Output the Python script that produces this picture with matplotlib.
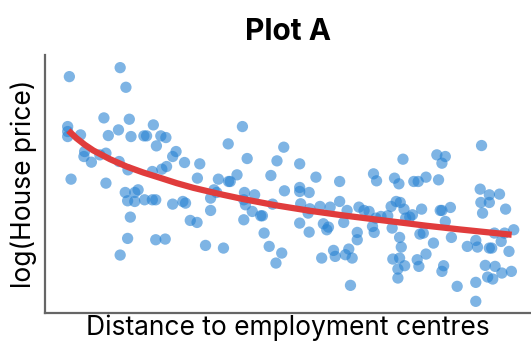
import numpy as np
import matplotlib.pyplot as plt

plt.rcParams['font.family'] = ['Inter', 'DejaVu Sans']

# scatter values (arbitrary units, no ticks shown)
distance = [2.05, 2.00, 2.00, 2.00, 2.10, 2.38, 2.50, 2.48, 2.70, 2.95,
            3.07, 3.13, 3.13, 3.20, 3.50, 3.55, 3.72, 3.82, 3.87, 3.52,
            3.78, 3.55, 3.77, 3.85, 3.70, 3.77, 3.98, 3.98, 4.08, 4.25,
            4.33, 4.27, 4.50, 4.60, 4.53, 4.62, 4.75, 4.90, 4.50, 4.78,
            4.92, 5.10, 5.20, 5.45, 5.10, 5.40, 5.48, 4.60, 4.88, 5.62,
            5.82, 5.83, 5.90, 6.07, 6.22, 6.22, 6.32, 6.45, 6.40, 6.60,
            6.74, 6.75, 6.80, 7.00, 7.16, 7.20, 7.30, 7.22, 7.20, 7.25,
            7.52, 7.45, 7.70, 7.75, 7.80, 7.95, 8.00, 8.05, 8.18, 8.15,
            8.32, 8.38, 8.40, 8.85, 8.85, 8.85, 8.88, 8.85, 9.13, 9.13,
            9.10, 9.15, 9.33, 9.45, 9.50, 9.55, 9.65, 9.70, 9.75, 9.85,
            9.90, 10.03, 10.03, 10.15, 10.20, 10.25, 10.30, 10.35, 10.40, 10.55,
            10.55, 10.60, 10.75, 10.90, 11.00, 11.05, 11.03, 11.12, 11.10, 11.25,
            11.45, 11.55, 11.58, 11.60, 11.65, 11.70, 11.78, 11.82, 11.80, 11.75,
            11.80, 11.75, 11.85, 11.90, 11.95, 11.93, 11.98, 12.10, 12.18, 12.22,
            12.35, 12.32, 12.37, 12.40, 12.45, 12.50, 12.58, 12.58, 12.80, 12.90,
            12.95, 13.00, 13.05, 13.05, 13.15, 13.15, 13.05, 13.10, 13.30, 13.33,
            13.50, 13.80, 14.05, 14.05, 14.05, 14.10, 14.18, 14.22, 14.20, 14.25,
            14.33, 14.40, 14.45, 14.45, 14.45, 14.52, 14.55, 14.60, 14.62, 14.75,
            14.80, 14.82, 14.90, 14.93, 15.03, 15.10, 15.17]
log_price = [7.10, 5.60, 5.45, 5.30, 4.02, 5.35, 4.85, 4.70, 4.53, 4.75,
             5.86, 4.80, 3.90, 5.33, 5.50, 7.37, 6.78, 5.82, 5.30, 4.55,
             4.30, 1.74, 2.24, 2.88, 3.62, 3.37, 3.62, 3.35, 3.70, 5.32,
             5.32, 3.40, 3.40, 3.40, 5.65, 5.02, 5.32, 5.27, 4.25, 4.32,
             4.40, 4.70, 4.85, 4.52, 3.27, 3.35, 3.30, 2.20, 2.22, 2.78,
             2.72, 4.05, 4.48, 2.03, 3.08, 3.45, 3.70, 4.02, 3.62, 1.95,
             5.08, 3.95, 3.95, 4.15, 5.60, 2.80, 4.64, 3.62, 3.40, 3.25,
             3.55, 3.05, 2.92, 2.92, 2.40, 2.00, 4.13, 3.27, 4.57, 1.50,
             1.80, 4.98, 3.67, 4.48, 3.77, 3.65, 3.28, 2.70, 3.62, 2.43,
             3.00, 3.13, 4.08, 3.20, 1.65, 2.68, 2.50, 2.58, 3.18, 1.88,
             1.70, 3.95, 3.35, 2.72, 1.75, 3.08, 1.92, 0.83, 1.65, 2.42,
             2.20, 3.18, 3.08, 3.05, 2.60, 2.42, 4.18, 3.97, 2.85, 2.90,
             2.92, 3.20, 2.55, 1.62, 4.05, 3.35, 3.88, 3.32, 2.27, 1.05,
             1.65, 1.32, 1.98, 4.62, 1.42, 3.12, 2.85, 2.88, 2.95, 3.95,
             3.95, 1.60, 1.40, 2.37, 3.12, 2.40, 4.08, 1.77, 2.10, 4.75,
             4.00, 3.08, 4.50, 3.08, 4.70, 2.75, 1.25, 1.42, 3.17, 2.27,
             0.80, 2.00, 0.92, 0.35, 2.18, 1.98, 3.72, 5.03, 3.32, 3.00,
             1.43, 1.08, 3.55, 1.95, 3.32, 1.95, 1.02, 2.40, 1.40, 3.57,
             2.15, 1.20, 2.40, 3.12, 1.85, 1.25, 2.50]

# trend curve
trend_x = [2.02, 2.26, 2.51, 2.76, 3.25, 3.74, 4.23, 4.73, 5.22, 5.71,
           6.50, 7.19, 8.17, 9.15, 10.14, 10.93, 11.61, 12.60, 13.58, 15.11]
trend_y = [5.48, 5.25, 5.05, 4.88, 4.62, 4.40, 4.22, 4.06, 3.90, 3.76,
           3.57, 3.42, 3.23, 3.07, 2.93, 2.83, 2.745, 2.62, 2.51, 2.35]

fig = plt.figure(figsize=(5.31, 3.48), dpi=100)
ax = fig.add_axes([0.0847, 0.1006, 0.9153, 0.7414])

ax.scatter(distance, log_price, s=66, color='#2882d2', alpha=0.6,
           edgecolors='none', zorder=2)
ax.plot(trend_x, trend_y, color='#e03c3c', lw=4.5, solid_capstyle='butt',
        solid_joinstyle='round', zorder=3)

ax.set_xlim(1.33, 15.68)
ax.set_ylim(0, 7.75)
ax.set_xticks([])
ax.set_yticks([])
for side in ['top', 'right']:
    ax.spines[side].set_visible(False)
for side in ['left', 'bottom']:
    ax.spines[side].set_color('#666666')
    ax.spines[side].set_linewidth(1.6)

ax.set_title('Plot A', fontsize=21.5, fontweight='bold', pad=11)
ax.set_xlabel('Distance to employment centres', fontsize=19, labelpad=1)
ax.set_ylabel('log(House price)', fontsize=19, labelpad=6)

fig.savefig('out.png', dpi=100)
